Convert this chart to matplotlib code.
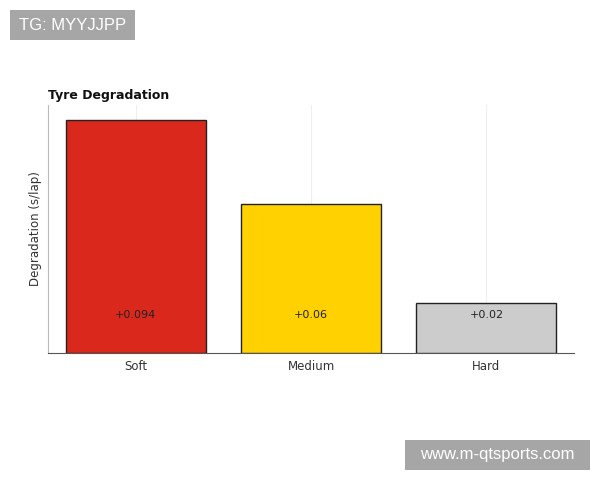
import matplotlib
matplotlib.use("Agg")
import matplotlib.pyplot as plt
from matplotlib.patches import Rectangle

compounds = ["Soft", "Medium", "Hard"]
degradation = [0.094, 0.06, 0.02]
labels = ["+0.094", "+0.06", "+0.02"]
colors = ["#DA291C", "#FFD100", "#CCCCCC"]

W, H = 600, 480
fig = plt.figure(figsize=(6, 4.8), dpi=100)
ax = fig.add_axes([0.08, 0.2646, 0.8767, 0.5166])
x = list(range(len(compounds)))
ax.bar(x, degradation, width=0.8, color=colors, edgecolor="#222222", linewidth=1, zorder=3)
for xi, lab in zip(x, labels):
    ax.text(xi, 0.0155, lab, ha="center", va="center", fontsize=8, color="#222222", zorder=4)
ax.set_xlim(-0.5, 2.5)
ax.set_ylim(0, 0.1)
ax.set_xticks(x)
ax.set_xticklabels(compounds, fontsize=8.5, color="#333333")
ax.set_yticks([])
ax.tick_params(axis="x", length=0, pad=5)
ax.grid(axis="x", color="#eeeeee", linewidth=0.8, zorder=0)
for s in ["top", "right"]:
    ax.spines[s].set_visible(False)
ax.spines["left"].set_color("#bbbbbb")
ax.spines["bottom"].set_color("#555555")
ax.set_ylabel("Degradation (s/lap)", fontsize=8.5, color="#333333", labelpad=4)
fig.text(0.08, 0.80, "Tyre Degradation", fontsize=9, fontweight="bold", ha="left", va="center", color="#111111")

def wm(x0, y0, x1, y1, text):
    fig.patches.append(Rectangle((x0 / W, 1 - y1 / H), (x1 - x0) / W, (y1 - y0) / H,
                                 transform=fig.transFigure, facecolor="#a6a6a6", edgecolor="none"))
    fig.text((x0 + x1) / 2 / W, 1 - (y0 + y1) / 2 / H, text, fontsize=12, color="white",
             ha="center", va="center", family="Liberation Sans")

wm(10, 10, 135, 40, "TG: MYYJJPP")
wm(405, 440, 590, 470, "www.m-qtsports.com")

fig.savefig("out.png", dpi=100, facecolor="white")
